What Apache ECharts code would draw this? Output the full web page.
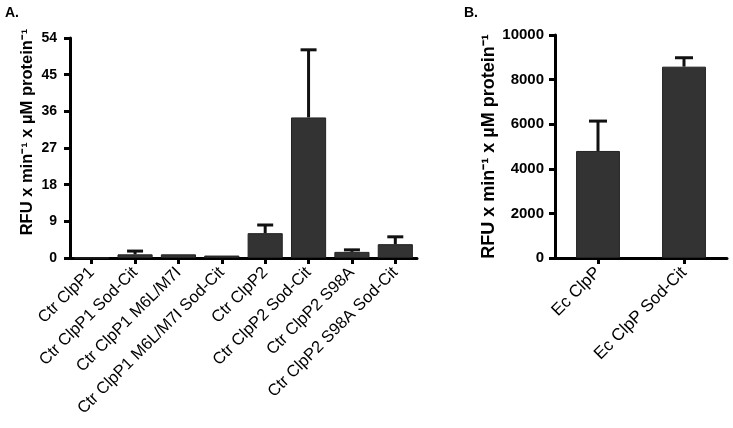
<!DOCTYPE html>
<html><head><meta charset="utf-8">
<script src="https://cdn.jsdelivr.net/npm/echarts@6/dist/echarts.min.js"></script>
<style>html,body{margin:0;padding:0;background:#fff}#c{width:733px;height:428px}</style>
</head><body><div id="c"></div>
<script>
const catsA = ['Ctr ClpP1','Ctr ClpP1 Sod-Cit','Ctr ClpP1 M6L/M7I','Ctr ClpP1 M6L/M7I Sod-Cit','Ctr ClpP2','Ctr ClpP2 Sod-Cit','Ctr ClpP2 S98A','Ctr ClpP2 S98A Sod-Cit'];
const valsA = [0.05, 0.9, 0.9, 0.6, 6.1, 34.5, 1.5, 3.4];
const errA  = [0, 0.8, 0, 0, 2.0, 16.6, 0.5, 1.8];
const catsB = ['Ec ClpP','Ec ClpP Sod-Cit'];
const valsB = [4800, 8580];
const errB  = [1340, 400];
const ticksA = [0, 9, 18, 27, 36, 45, 54];
const ticksB = [0, 2000, 4000, 6000, 8000, 10000];
const yTitle = 'RFU x min\u207B\u00B9 x \u00B5M protein\u207B\u00B9';

const FONT = '"Liberation Sans", Arial, sans-serif';
const chart = echarts.init(document.getElementById('c'));

function errSeries(xi, vals, errs, capW){
  return {
    type:'custom', xAxisIndex:xi, yAxisIndex:xi, z:1,
    data: vals.map((v,i)=>[i, v, v+errs[i]]),
    renderItem:(params, api)=>{
      if (api.value(2) <= api.value(1)) return;
      const b = api.coord([api.value(0), api.value(1)]);
      const t = api.coord([api.value(0), api.value(2)]);
      const st = {stroke:'#111', lineWidth:3};
      return {type:'group', children:[
        {type:'line', shape:{x1:b[0], y1:b[1], x2:t[0], y2:t[1]}, style:st},
        {type:'line', shape:{x1:t[0]-capW/2, y1:t[1], x2:t[0]+capW/2, y2:t[1]}, style:st}
      ]};
    }
  };
}

const axisLine = {show:true, lineStyle:{color:'#000', width:3}};
const axisTick = {show:true, inside:false, length:6, lineStyle:{color:'#000', width:3}};

chart.setOption({
  animation:false,
  backgroundColor:'#fff',
  title:[
    {text:'A.', left:0, top:1, textStyle:{fontFamily:FONT, fontSize:14, fontWeight:'bold', color:'#000'}},
    {text:'B.', left:459, top:1, textStyle:{fontFamily:FONT, fontSize:14, fontWeight:'bold', color:'#000'}}
  ],
  grid:[
    {left:70, top:38, width:347, height:220},
    {left:555, top:35, width:172, height:223}
  ],
  xAxis:[
    {type:'category', gridIndex:0, data:catsA, axisLine, axisTick:{...axisTick, alignWithLabel:true},
     axisLabel:{rotate:45, interval:0, margin:12, fontFamily:FONT, fontSize:16.5, color:'#000'}},
    {type:'category', gridIndex:1, data:catsB, axisLine, axisTick:{...axisTick, alignWithLabel:true},
     axisLabel:{rotate:45, interval:0, margin:12, fontFamily:FONT, fontSize:17, color:'#000'}}
  ],
  yAxis:[
    {type:'value', gridIndex:0, min:ticksA[0], max:ticksA[ticksA.length-1], interval:ticksA[1]-ticksA[0],
     splitLine:{show:false}, axisLine, axisTick,
     axisLabel:{fontFamily:FONT, fontSize:14, fontWeight:'bold', color:'#000', margin:13},
     name:yTitle, nameLocation:'middle', nameGap:34,
     nameTextStyle:{fontFamily:FONT, fontSize:16.5, fontWeight:'bold', color:'#000', padding:[0,0,0,32]}},
    {type:'value', gridIndex:1, min:ticksB[0], max:ticksB[ticksB.length-1], interval:ticksB[1]-ticksB[0],
     splitLine:{show:false}, axisLine, axisTick,
     axisLabel:{fontFamily:FONT, fontSize:15, fontWeight:'bold', color:'#000', margin:11, formatter:v=>String(v)},
     name:yTitle, nameLocation:'middle', nameGap:53,
     nameTextStyle:{fontFamily:FONT, fontSize:18, fontWeight:'bold', color:'#000'}}
  ],
  series:[
    {type:'bar', xAxisIndex:0, yAxisIndex:0, data:valsA, barWidth:'81%', z:2,
     itemStyle:{color:'#333333', borderColor:'#222', borderWidth:1}},
    errSeries(0, valsA, errA, 16),
    {type:'bar', xAxisIndex:1, yAxisIndex:1, data:valsB, barWidth:'51%', z:2,
     itemStyle:{color:'#333333', borderColor:'#222', borderWidth:1}},
    errSeries(1, valsB, errB, 18)
  ]
});
</script></body></html>
